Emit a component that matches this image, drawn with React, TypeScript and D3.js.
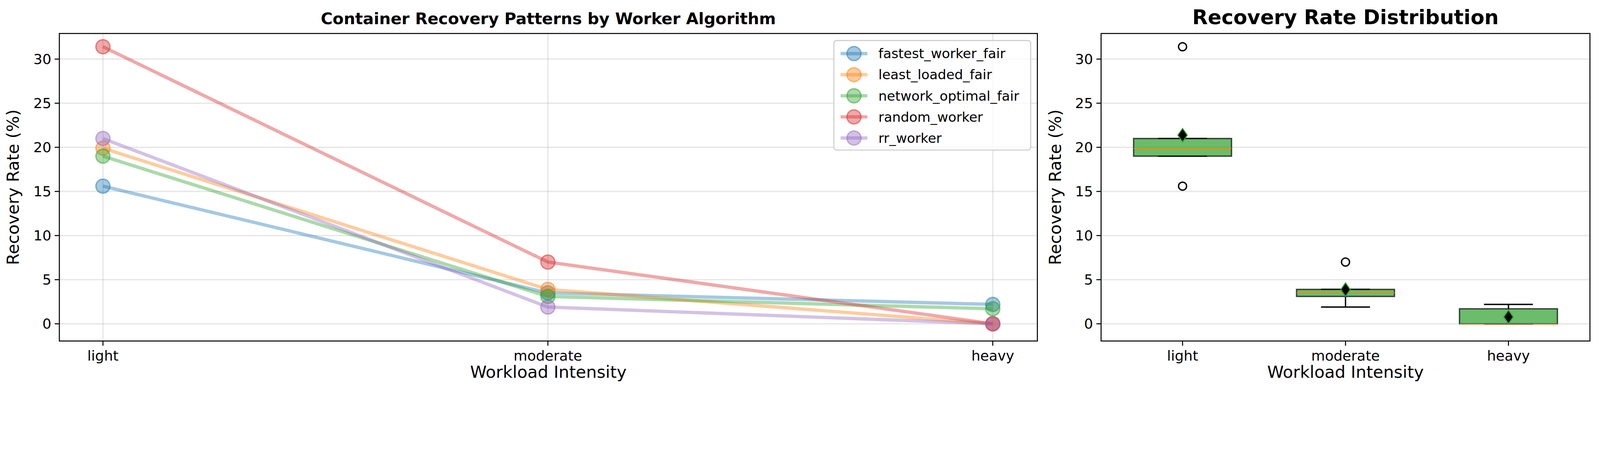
import * as d3 from 'd3'

const W = 4772
const H = 1171
const FONT = 'DejaVu Sans, sans-serif'

const categories = ['light', 'moderate', 'heavy']
const algorithms = ['fastest_worker_fair', 'least_loaded_fair', 'network_optimal_fair', 'random_worker', 'rr_worker']
const colors = ['#1f77b4', '#ff7f0e', '#2ca02c', '#d62728', '#9467bd']
const fastest = [15.6, 3.5, 2.2]
const leastLoaded = [19.9, 3.9, 0]
const networkOptimal = [19.0, 3.1, 1.7]
const randomWorker = [31.4, 7.0, 0]
const rrWorker = [21.0, 1.9, 0]
const series = [fastest, leastLoaded, networkOptimal, randomWorker, rrWorker]
const yTicks = [0, 5, 10, 15, 20, 25, 30]

const top = 100
const bottom = 1018
const y = d3.scaleLinear().domain([-1.95, 32.9]).range([bottom, top])

function boxStats(vals: number[]) {
  const s = [...vals].sort(d3.ascending)
  const q1 = d3.quantile(s, 0.25)!
  const q3 = d3.quantile(s, 0.75)!
  const med = d3.quantile(s, 0.5)!
  const iqr = q3 - q1
  const inside = s.filter(v => v >= q1 - 1.5 * iqr - 1e-9 && v <= q3 + 1.5 * iqr + 1e-9)
  return {
    q1, q3, med, mean: d3.mean(s)!,
    lo: d3.min(inside)!, hi: d3.max(inside)!,
    out: s.filter(v => !inside.includes(v)),
  }
}

const YAxis = ({ x0, x1 }: { x0: number; x1: number }) => (
  <g>
    {yTicks.map(t => (
      <g key={t}>
        <line x1={x0} x2={x1} y1={y(t)} y2={y(t)} stroke="#b0b0b0" strokeOpacity={0.3} strokeWidth={4} />
        <line x1={x0 - 14} x2={x0} y1={y(t)} y2={y(t)} stroke="#000" strokeWidth={3} />
        <text x={x0 - 24} y={y(t)} dy="0.35em" textAnchor="end" fontSize={42} fontFamily={FONT}>{t}</text>
      </g>
    ))}
  </g>
)

export default function App() {
  // left panel
  const lx = d3.scalePoint().domain(categories).range([307, 2961])
  const L0 = 177, L1 = 3094
  const line = d3.line<number>().x((_, i) => lx(categories[i])!).y(d => y(d))

  // right panel
  const R0 = 3284, R1 = 4742
  const rx = d3.scalePoint().domain(categories).range([3527, 4499])
  const bw = 292
  const stats = categories.map((_, i) => boxStats(series.map(s => s[i])))

  return (
    <svg viewBox={`0 0 ${W} ${H}`} style={{ position: 'absolute', left: 0, top: 0, width: '100vw', height: 'auto', background: '#fff' }}>
      {/* LEFT */}
      {categories.map(c => (
        <line key={c} x1={lx(c)} x2={lx(c)} y1={top} y2={bottom} stroke="#b0b0b0" strokeOpacity={0.3} strokeWidth={4} />
      ))}
      <YAxis x0={L0} x1={L1} />
      {series.map((s, k) => (
        <g key={k}>
          <path d={line(s)!} fill="none" stroke={colors[k]} strokeOpacity={0.4} strokeWidth={10} />
          {s.map((v, i) => (
            <circle key={i} cx={lx(categories[i])} cy={y(v)} r={21} fill={colors[k]} fillOpacity={0.4} stroke={colors[k]} strokeOpacity={0.5} strokeWidth={4} />
          ))}
        </g>
      ))}
      <rect x={L0} y={top} width={L1 - L0} height={bottom - top} fill="none" stroke="#000" strokeWidth={3} />
      {categories.map(c => (
        <g key={c}>
          <line x1={lx(c)} x2={lx(c)} y1={bottom} y2={bottom + 14} stroke="#000" strokeWidth={3} />
          <text x={lx(c)} y={bottom + 58} textAnchor="middle" fontSize={42} fontFamily={FONT}>{c}</text>
        </g>
      ))}
      <text x={(L0 + L1) / 2} y={1128} textAnchor="middle" fontSize={50} fontFamily={FONT}>Workload Intensity</text>
      <text transform={`translate(56,${(top + bottom) / 2}) rotate(-90)`} textAnchor="middle" fontSize={50} fontFamily={FONT}>Recovery Rate (%)</text>
      <text x={(L0 + L1) / 2} y={72} textAnchor="middle" fontSize={48} fontWeight="bold" fontFamily={FONT}>Container Recovery Patterns by Worker Algorithm</text>
      {/* legend */}
      <rect x={2487} y={121} width={587} height={327} rx={8} fill="#fff" fillOpacity={0.8} stroke="#ccc" strokeWidth={3} />
      {algorithms.map((a, k) => {
        const ly = 160 + k * 63
        return (
          <g key={a}>
            <line x1={2507} x2={2587} y1={ly} y2={ly} stroke={colors[k]} strokeOpacity={0.4} strokeWidth={10} />
            <circle cx={2547} cy={ly} r={21} fill={colors[k]} fillOpacity={0.4} stroke={colors[k]} strokeOpacity={0.5} strokeWidth={4} />
            <text x={2620} y={ly} dy="0.35em" fontSize={40} fontFamily={FONT}>{a}</text>
          </g>
        )
      })}

      {/* RIGHT */}
      <YAxis x0={R0} x1={R1} />
      {stats.map((s, i) => {
        const cx = rx(categories[i])!
        return (
          <g key={i}>
            <line x1={cx} x2={cx} y1={y(s.q3)} y2={y(s.hi)} stroke="#000" strokeWidth={4} />
            <line x1={cx} x2={cx} y1={y(s.q1)} y2={y(s.lo)} stroke="#000" strokeWidth={4} />
            <line x1={cx - bw / 4} x2={cx + bw / 4} y1={y(s.hi)} y2={y(s.hi)} stroke="#000" strokeWidth={4} />
            <line x1={cx - bw / 4} x2={cx + bw / 4} y1={y(s.lo)} y2={y(s.lo)} stroke="#000" strokeWidth={4} />
            <rect x={cx - bw / 2} y={y(s.q3)} width={bw} height={y(s.q1) - y(s.q3)} fill="#2ca02c" fillOpacity={0.7} stroke="#000" strokeOpacity={0.7} strokeWidth={4} />
            <line x1={cx - bw / 2} x2={cx + bw / 2} y1={y(s.med)} y2={y(s.med)} stroke="#ff7f0e" strokeOpacity={0.8} strokeWidth={3} />
            {s.out.map((v, j) => (
              <circle key={j} cx={cx} cy={y(v)} r={12} fill="none" stroke="#000" strokeWidth={4} />
            ))}
            <path d={`M${cx},${y(s.mean) - 20}L${cx + 14},${y(s.mean)}L${cx},${y(s.mean) + 20}L${cx - 14},${y(s.mean)}Z`} fill="#000" stroke="#2ca02c" strokeWidth={3} />
          </g>
        )
      })}
      <rect x={R0} y={top} width={R1 - R0} height={bottom - top} fill="none" stroke="#000" strokeWidth={3} />
      {categories.map(c => (
        <g key={c}>
          <line x1={rx(c)} x2={rx(c)} y1={bottom} y2={bottom + 14} stroke="#000" strokeWidth={3} />
          <text x={rx(c)} y={bottom + 58} textAnchor="middle" fontSize={42} fontFamily={FONT}>{c}</text>
        </g>
      ))}
      <text x={(R0 + R1) / 2} y={1128} textAnchor="middle" fontSize={50} fontFamily={FONT}>Workload Intensity</text>
      <text transform={`translate(3164,${(top + bottom) / 2}) rotate(-90)`} textAnchor="middle" fontSize={50} fontFamily={FONT}>Recovery Rate (%)</text>
      <text x={(R0 + R1) / 2} y={72} textAnchor="middle" fontSize={60} fontWeight="bold" fontFamily={FONT}>Recovery Rate Distribution</text>
    </svg>
  )
}
